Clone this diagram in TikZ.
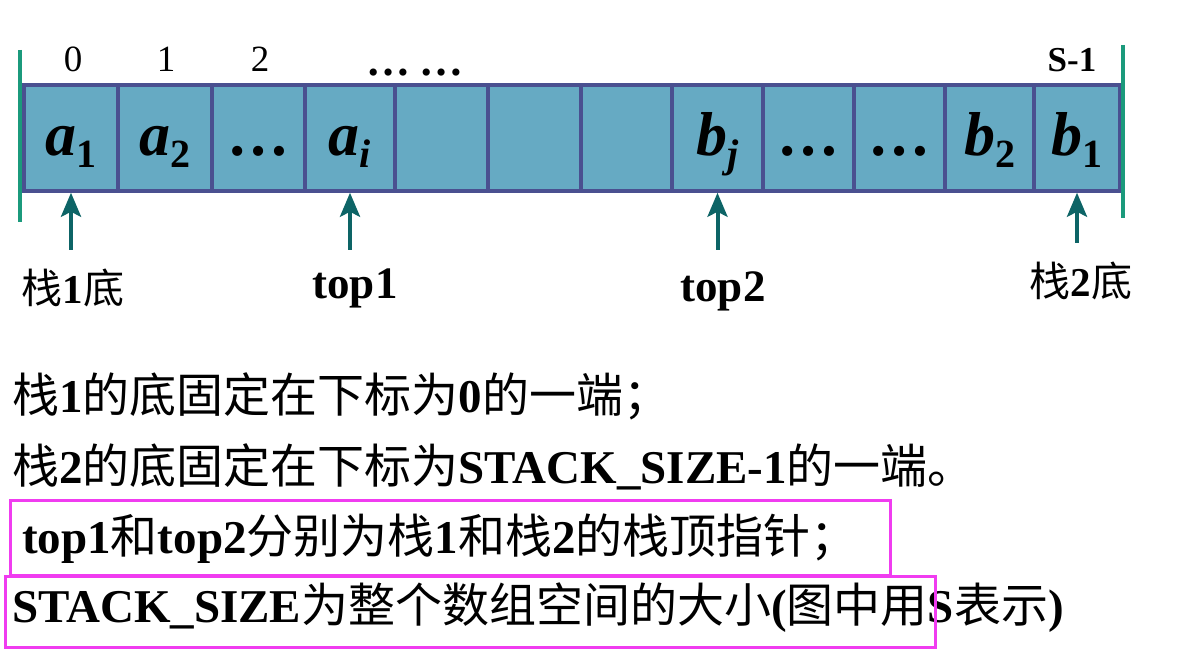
\documentclass[tikz,border=0pt]{standalone}
\usepackage{fontspec}
\setmainfont{Liberation Serif}
\newfontfamily\cjk{Noto Sans CJK SC}
\usetikzlibrary{arrows.meta}
\definecolor{cellfill}{HTML}{66AAC3}
\definecolor{cellline}{HTML}{4A5090}
\definecolor{barcol}{HTML}{1B9A7C}
\definecolor{ptrcol}{HTML}{0D6466}
\definecolor{hlcol}{HTML}{F03CF0}
\newcommand\zh[1]{{\cjk #1}}
\newcommand\elem[2]{{\bfseries\itshape #1}\raisebox{-12pt}{\fontsize{40}{40}\selectfont\bfseries #2}}
\newcommand\elemi[2]{{\bfseries\itshape #1}\raisebox{-12pt}{\fontsize{40}{40}\selectfont\bfseries\itshape #2}}
\begin{document}
\begin{tikzpicture}[x=1pt,y=-1pt,
  cell/.style={draw=cellline, fill=cellfill, line width=3.5pt, minimum height=106pt,
    inner sep=0pt, text height=35pt, text depth=0pt,
    font=\fontsize{62}{62}\selectfont\bfseries},
  idx/.style={anchor=base, inner sep=0pt, font=\fontsize{37}{37}\selectfont},
  lbl/.style={anchor=base, inner sep=0pt, font=\fontsize{41}{41}\selectfont},
  ptr/.style={draw=ptrcol, line width=4pt, -{Stealth[length=24pt,width=20pt,inset=5pt]}},
  bar/.style={draw=barcol, line width=4pt},
  line/.style={anchor=base west, inner sep=0pt, font=\fontsize{47}{47}\selectfont},
  hl/.style={draw=hlcol, line width=3pt}]
\useasboundingbox[fill=white] (0,0) rectangle (1183,666);

% array cells
\node[cell, minimum width=94pt] (c0) at (71,138) {\elem{a}{1}};
\node[cell, minimum width=94pt] (c1) at (165,138) {\elem{a}{2}};
\node[cell, minimum width=93pt] (c2) at (258.5,138) {…};
\node[cell, minimum width=90pt] (c3) at (350,138) {\elemi{a}{i}};
\node[cell, minimum width=93pt] (c4) at (441.5,138) {};
\node[cell, minimum width=93pt] (c5) at (534.5,138) {};
\node[cell, minimum width=91pt] (c6) at (626.5,138) {};
\node[cell, minimum width=91pt] (c7) at (717.5,138) {\elemi{b}{j}};
\node[cell, minimum width=91pt] (c8) at (808.5,138) {…};
\node[cell, minimum width=91pt] (c9) at (899.5,138) {…};
\node[cell, minimum width=89pt] (c10) at (989.5,138) {\elem{b}{2}};
\node[cell, minimum width=86pt] (c11) at (1077,138) {\elem{b}{1}};

% end bars
\coordinate (lbt) at (20,50);
\coordinate (lbb) at (20,222);
\coordinate (rbt) at (1123,45);
\coordinate (rbb) at (1123,218);
\draw[bar] (lbt) -- (lbb);
\draw[bar] (rbt) -- (rbb);

% indices
\node[idx] (i0) at (73,72) {0};
\node[idx] (i1) at (166,72) {1};
\node[idx] (i2) at (260,72) {2};
\node[idx, font=\fontsize{44}{44}\selectfont\bfseries] (idots) at (415,76) {…\hspace{10pt}…};
\node[idx, font=\fontsize{35}{35}\selectfont\bfseries] (iS) at (1072,72) {S-1};

% pointers
\draw[ptr] ([yshift=-57pt]c0.south) -- (c0.south);
\draw[ptr] ([yshift=-57pt]c3.south) -- (c3.south);
\draw[ptr] ([yshift=-57pt]c7.south) -- (c7.south);
\draw[ptr] ([yshift=-50pt]c11.south) -- (c11.south);

% pointer labels
\node[lbl] (l1) at (73,303) {\zh{栈}\textbf{1}\zh{底}};
\node[lbl, font=\fontsize{45}{45}\selectfont\bfseries] (t1) at (355,298) {top1};
\node[lbl, font=\fontsize{45}{45}\selectfont\bfseries] (t2) at (723,301) {top2};
\node[lbl] (l2) at (1081,296) {\zh{栈}\textbf{2}\zh{底}};

% explanatory lines
\node[line] (s1) at (12,412) {\zh{栈}\textbf{1}\zh{的底固定在下标为}\textbf{0}\zh{的一端；}};
\node[line] (s2) at (12,483) {\zh{栈}\textbf{2}\zh{的底固定在下标为}\textbf{STACK\_SIZE-1}\zh{的一端。}};
\node[line] (s3) at (22,553) {\textbf{top1}\zh{和}\textbf{top2}\zh{分别为栈}\textbf{1}\zh{和栈}\textbf{2}\zh{的栈顶指针；}};
\node[line] (s4) at (12,622) {\textbf{STACK\_SIZE}\zh{为整个数组空间的大小}\textbf{(}\zh{图中用}\textbf{S}\zh{表示}\textbf{)}};

% highlight boxes
\draw[hl] (10,500) rectangle (890,575);
\draw[hl] (5,576) rectangle (935,647);
\end{tikzpicture}
\end{document}
